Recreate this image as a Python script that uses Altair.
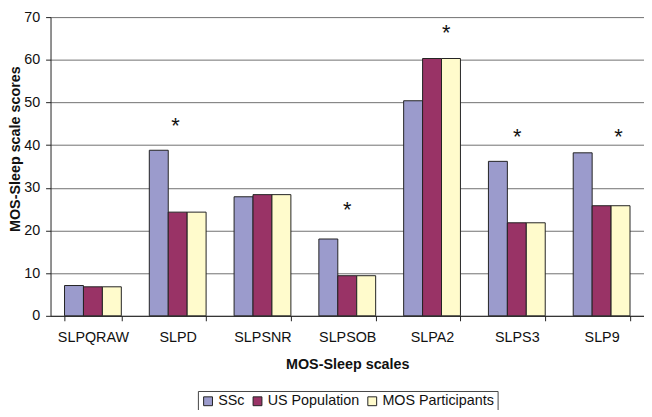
import altair as alt
import pandas as pd

categories = ["SLPQRAW", "SLPD", "SLPSNR", "SLPSOB", "SLPA2", "SLPS3", "SLP9"]
series = ["SSc", "US Population", "MOS Participants"]
ssc = [7.1, 38.8, 27.9, 18.0, 50.4, 36.2, 38.2]
us_pop = [6.8, 24.3, 28.4, 9.4, 60.3, 21.8, 25.8]
mos_part = [6.8, 24.3, 28.4, 9.4, 60.3, 21.8, 25.8]
colors = ["#9B9BCC", "#993366", "#FFFBCC"]

star_cats = ["SLPD", "SLPSOB", "SLPA2", "SLPS3", "SLP9"]
star_y = [44.5, 24.8, 66.2, 42.0, 41.8]
star_shift = [-0.025, 0.0, 0.166, 0.005, 0.2]

rows = []
for s, vals in zip(series, [ssc, us_pop, mos_part]):
    for c, v in zip(categories, vals):
        rows.append({"scale": c, "group": s, "value": v})
df = pd.DataFrame(rows)

stars = pd.DataFrame({
    "pos": [categories.index(c) + 0.5 + sh for c, sh in zip(star_cats, star_shift)],
    "value": star_y,
    "t": ["*"] * len(star_cats),
})

FONT = "Liberation Sans"
W, H = 600, 302

bars = alt.Chart(df).mark_bar(stroke="#222222", strokeWidth=1).encode(
    x=alt.X("scale:N", sort=categories, title="MOS-Sleep scales",
            scale=alt.Scale(paddingInner=0.33, paddingOuter=0.165),
            axis=alt.Axis(labelAngle=0, tickBand="extent", grid=False,
                          tickSize=5, labelPadding=10, titlePadding=14,
                          domainColor="#222222", tickColor="#222222")),
    xOffset=alt.XOffset("group:N", sort=series),
    y=alt.Y("value:Q", title="MOS-Sleep scale scores",
            scale=alt.Scale(domain=[0, 70], nice=False),
            axis=alt.Axis(values=list(range(0, 71, 10)), tickSize=5,
                          labelPadding=6, grid=True, gridColor="#707070",
                          domainColor="#222222", tickColor="#222222",
                          titleX=-35, titleY=133, titleAngle=-90,
                          titleAlign="center", titleBaseline="middle")),
    color=alt.Color("group:N", sort=series,
                    scale=alt.Scale(domain=series, range=colors),
                    legend=alt.Legend(title=None, orient="none", legendX=149,
                                      legendY=378, direction="horizontal",
                                      symbolType="square", symbolSize=80,
                                      symbolStrokeColor="#222222",
                                      symbolStrokeWidth=1, columnPadding=5,
                                      labelOffset=3, strokeColor="#444444",
                                      padding=3)),
)

text = alt.Chart(stars).mark_text(fontSize=22, font=FONT, baseline="middle",
                                  color="#111111", dy=0).encode(
    x=alt.X("pos:Q", scale=alt.Scale(domain=[0, 7], nice=False), axis=None),
    y=alt.Y("value:Q"),
    text="t:N",
)

chart = alt.layer(bars, text).resolve_scale(x="independent", y="shared").properties(
    width=W, height=H,
    autosize=alt.AutoSizeParams(type="none"),
    padding={"left": 43, "top": 7, "right": 0, "bottom": 93},
).configure_view(stroke=None).configure_axis(
    labelFont=FONT, titleFont=FONT, labelFontSize=14.5, titleFontSize=14.5,
    labelColor="#111111", titleColor="#111111", titleFontWeight="bold",
).configure_legend(labelFont=FONT, labelFontSize=14.5, labelColor="#111111")

chart.save("out.html", embed_options={"renderer": "svg", "actions": False})
